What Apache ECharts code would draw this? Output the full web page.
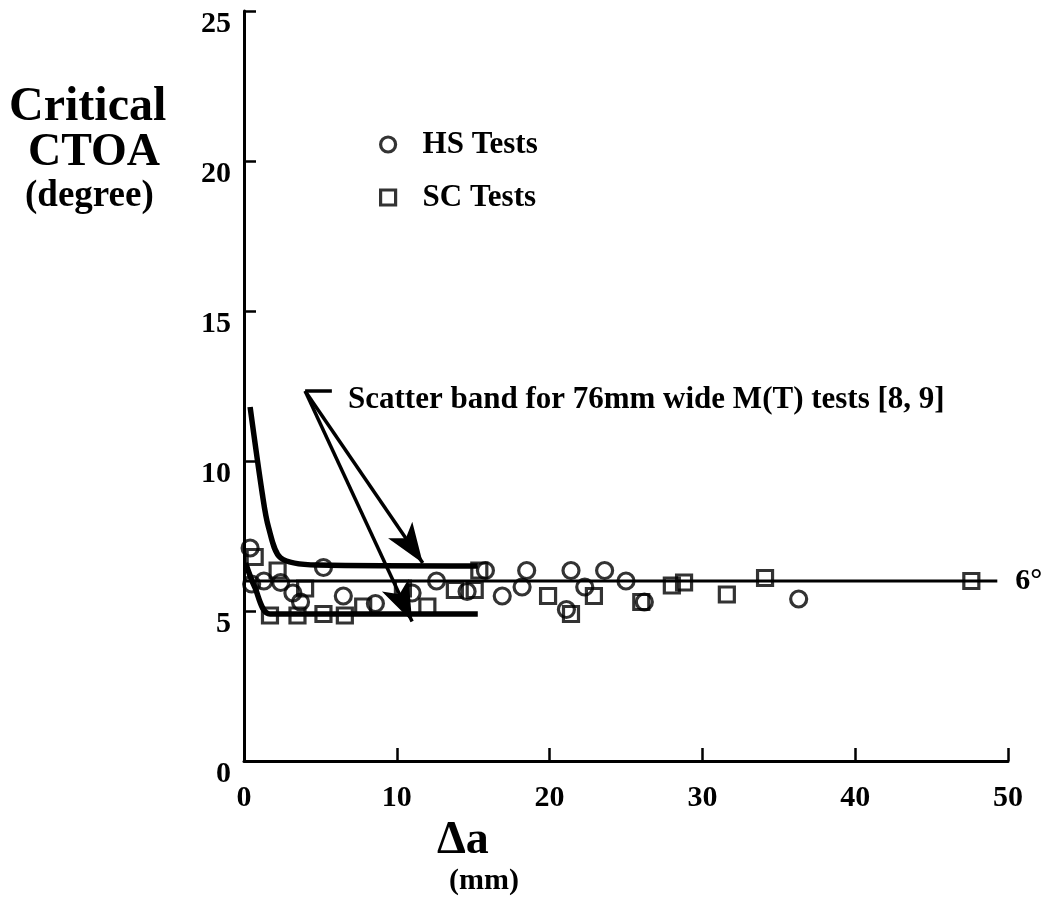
<!DOCTYPE html>
<html><head><meta charset="utf-8">
<script src="https://cdn.jsdelivr.net/npm/echarts@6/dist/echarts.min.js"></script>
<style>html,body{margin:0;background:#fff}#c{width:1049px;height:911px}</style>
</head><body><div id="c"></div>
<script>
// ---- data ----
const hsTests = [
  [0.4, 7.1], [0.5, 5.9], [1.3, 6.0], [2.4, 5.95], [3.2, 5.6], [3.7, 5.3],
  [5.2, 6.45], [6.5, 5.5], [8.6, 5.25], [11.0, 5.6], [12.6, 6.0], [14.6, 5.65],
  [15.8, 6.35], [16.9, 5.5], [18.2, 5.8], [18.5, 6.35], [21.1, 5.05], [21.4, 6.35],
  [22.3, 5.8], [23.6, 6.35], [25.0, 6.0], [26.2, 5.3], [36.3, 5.4]
];
const scTests = [
  [0.7, 6.8], [2.2, 6.35], [4.0, 5.75], [1.7, 4.85], [3.5, 4.85], [5.2, 4.9],
  [6.6, 4.85], [7.8, 5.15], [10.4, 5.75], [12.0, 5.15], [13.8, 5.7], [15.1, 5.7],
  [15.4, 6.35], [19.9, 5.5], [21.4, 4.9], [22.9, 5.5], [26.0, 5.3],
  [28.0, 5.85], [28.8, 5.95], [31.6, 5.55], [34.1, 6.1], [47.6, 6.0]
];
const bandUpper = [[0.4, 11.8], [1.2, 8.9], [1.6, 7.8], [2.4, 6.77], [4.8, 6.53], [15.3, 6.5]];
const bandLower = [[0.1, 6.6], [0.7, 5.8], [1.7, 4.9], [15.3, 4.9]];
const refLine = [[0.05, 6], [49.3, 6]];
const refLabel = '6°';
const xRange = [0, 50], xStep = 10;
const yRange = [0, 25], yStep = 5;
const annoStart = [4.0, 12.33];
const annoBracketEnd = [5.75, 12.33];
const annoTipUpper = [11.7, 6.6];
const annoTipLower = [11.0, 4.65];
const annoText = 'Scatter band for 76mm wide M(T) tests [8, 9]';
const yTitle = ['Critical', 'CTOA', '(degree)'];
const xTitle = ['Δa', '(mm)'];
const legendNames = ['HS Tests', 'SC Tests'];

const F = "'Liberation Serif','Times New Roman',serif";
const chart = echarts.init(document.getElementById('c'));
const markerStyle = { color: 'rgba(0,0,0,0)', borderColor: '#000', borderWidth: 3.2 };
chart.setOption({
  backgroundColor: '#fff',
  animation: false,
  grid: { left: 244, right: 41, top: 11, bottom: 150, containLabel: false },
  legend: {
    orient: 'vertical', left: 374, top: 124, itemGap: 22,
    itemWidth: 15, itemHeight: 15,
    itemStyle: markerStyle,
    textStyle: { fontFamily: F, fontWeight: 'bold', fontSize: 31, color: '#000', padding: [0, 0, 0, 22] },
    data: [{ name: legendNames[0], icon: 'circle' }, { name: legendNames[1], icon: 'rect' }]
  },
  xAxis: {
    type: 'value', min: xRange[0], max: xRange[1], interval: xStep,
    axisLine: { lineStyle: { color: '#000', width: 3 } },
    axisTick: { inside: true, length: 13, lineStyle: { color: '#000', width: 2.5 } },
    splitLine: { show: false },
    axisLabel: { fontFamily: F, fontWeight: 'bold', fontSize: 30, color: '#000', margin: 22 }
  },
  yAxis: {
    type: 'value', min: yRange[0], max: yRange[1], interval: yStep,
    axisLine: { lineStyle: { color: '#000', width: 3 } },
    axisTick: { inside: true, length: 12, lineStyle: { color: '#000', width: 2.5 } },
    splitLine: { show: false },
    axisLabel: { fontFamily: F, fontWeight: 'bold', fontSize: 30, color: '#000', margin: 13, verticalAlign: 'top', padding: [-2, 0, 0, 0] }
  },
  graphic: [
    { type: 'text', left: 9, top: 84, style: { text: yTitle[0], font: "bold 48px " + F, fill: '#000' } },
    { type: 'text', left: 28, top: 130, style: { text: yTitle[1], font: "bold 46px " + F, fill: '#000' } },
    { type: 'text', left: 25, top: 178, style: { text: yTitle[2], font: "bold 37px " + F, fill: '#000' } },
    { type: 'text', left: 437, top: 818, style: { text: xTitle[0], font: "bold 46px " + F, fill: '#000' } },
    { type: 'text', left: 449, top: 866, style: { text: xTitle[1], font: "bold 30px " + F, fill: '#000' } },
    { type: 'text', left: 348, top: 384, style: { text: annoText, font: "bold 31px " + F, fill: '#000' } }
  ],
  series: [
    { name: 'bandUpper', type: 'line', data: bandUpper, symbol: 'none', smooth: 0.3,
      lineStyle: { color: '#000', width: 5.5 }, z: 2, silent: true },
    { name: 'bandLower', type: 'line', data: bandLower, symbol: 'none', smooth: 0.3,
      lineStyle: { color: '#000', width: 5.5 }, z: 2, silent: true },
    { name: 'ref', type: 'line', data: refLine, symbol: 'none',
      lineStyle: { color: '#000', width: 3 }, z: 2, silent: true,
      endLabel: { show: true, formatter: refLabel, distance: 18, fontFamily: F, fontWeight: 'bold', fontSize: 30, color: '#000' },
      markLine: {
        silent: true, symbol: ['none', 'arrow'], symbolSize: [22, 40],
        label: { show: false },
        lineStyle: { color: '#000', width: 3.5, type: 'solid' },
        data: [
          [{ coord: annoStart }, { coord: annoTipUpper }],
          [{ coord: annoStart }, { coord: annoTipLower }],
          [{ coord: annoStart, symbol: 'none' }, { coord: annoBracketEnd, symbol: 'none' }]
        ]
      }
    },
    { name: legendNames[0], type: 'scatter', data: hsTests, symbol: 'circle', symbolSize: 16, itemStyle: markerStyle, z: 3 },
    { name: legendNames[1], type: 'scatter', data: scTests, symbol: 'rect', symbolSize: 15, itemStyle: markerStyle, z: 3 }
  ]
});
</script></body></html>
